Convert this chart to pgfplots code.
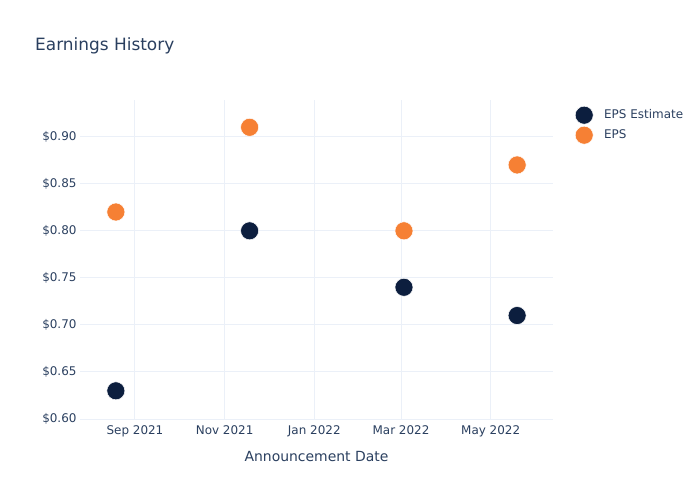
\documentclass[border=0pt]{standalone}
\usepackage{pgfplots}
\pgfplotsset{compat=1.18}
\usepackage{fontspec}
\setmainfont{DejaVu Sans}
\definecolor{txt}{HTML}{2A3F5F}
\definecolor{gridc}{HTML}{EBF0F8}
\definecolor{navy}{HTML}{0C1E3E}
\definecolor{orng}{HTML}{F68034}
\begin{document}
\begin{tikzpicture}[x=1bp,y=1bp]
\node[anchor=west,inner sep=0pt,text=txt,font=\fontsize{17}{20}\selectfont] at (35bp,454bp) {Earnings History};
\begin{axis}[
  at={(80bp,80bp)}, anchor=south west,
  scale only axis, width=473bp, height=320bp,
  xmin=-37.4, xmax=284.4, ymin=0.599, ymax=0.939,
  axis line style={draw=none},
  tick style={draw=none},
  grid=major, grid style={gridc, line width=1bp},
  xtick={0,61,122,181,242},
  xticklabels={Sep 2021,Nov 2021,Jan 2022,Mar 2022,May 2022},
  ytick={0.60,0.65,0.70,0.75,0.80,0.85,0.90},
  yticklabels={\$0.60,\$0.65,\$0.70,\$0.75,\$0.80,\$0.85,\$0.90},
  ticklabel style={font=\fontsize{12}{14}\selectfont, text=txt},
  xticklabel style={yshift=-2bp},
  xlabel={Announcement Date},
  xlabel style={font=\fontsize{14}{16}\selectfont, text=txt, yshift=-8bp},
  legend style={draw=none, fill=none, at={(1,1)}, anchor=north west, xshift=19bp, yshift=-4bp,
    font=\fontsize{12}{14}\selectfont, text=txt, row sep=2bp,
    /tikz/every odd column/.append style={column sep=9bp}},
  legend cell align=left,
]
\addplot[only marks, mark=*, mark size=9bp, mark options={fill=navy, draw=white, line width=0.5bp}] coordinates {
(-13,0.63) (78,0.80) (183,0.74) (260,0.71)};
\addlegendentry{EPS Estimate}
\addplot[only marks, mark=*, mark size=9bp, mark options={fill=orng, draw=white, line width=0.5bp}] coordinates {
(-13,0.82) (78,0.91) (183,0.80) (260,0.87)};
\addlegendentry{EPS}
\end{axis}
\pgfresetboundingbox
\path[use as bounding box] (0bp,0bp) rectangle (700bp,500bp);
\end{tikzpicture}
\end{document}
